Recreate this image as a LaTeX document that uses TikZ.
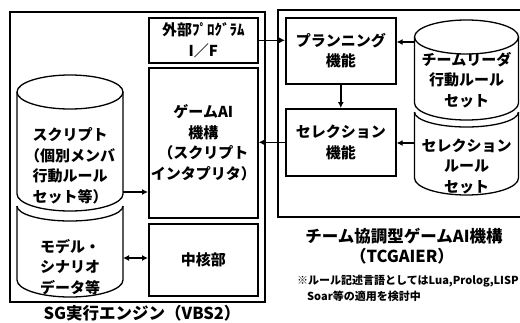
\documentclass[tikz,border=0pt]{standalone}
\usepackage{fontspec}
\setmainfont{Noto Sans CJK JP}
\usetikzlibrary{arrows.meta}
\tikzset{
  box/.style={draw, line width=1.6pt, inner sep=0pt},
  lbl/.style={font=\fontsize{15}{20.5}\selectfont\bfseries, align=center, inner sep=0pt},
  caplbl/.style={font=\fontsize{16.5}{20}\selectfont\bfseries, align=center, inner sep=0pt},
  notelbl/.style={font=\fontsize{11}{14}\selectfont\bfseries, anchor=west, inner sep=0pt},
  cylline/.style={line width=1.3pt},
  arr/.style={line width=1.5pt, -{Latex[length=6pt,width=6pt]}},
  darr/.style={line width=1.5pt, {Latex[length=6pt,width=6pt]}-{Latex[length=6pt,width=6pt]}},
}
\begin{document}
\begin{tikzpicture}[x=1pt,y=-1pt]
\useasboundingbox (0,0) rectangle (520,322);
% outer frames
\node[box, anchor=north west, minimum width=255pt, minimum height=290pt] (sg) at (9,11) {};
\draw[line width=1.6pt] (545,10) -- (278,10) -- (278,217) -- (545,217);
\coordinate (tcg) at (278,10);
% middle column
\node[box, lbl, anchor=north west, minimum width=109pt, minimum height=45pt] (ext) at (148,17) {外部ﾌﾟﾛｸﾞﾗﾑ\\I／F};
\node[box, lbl, anchor=north west, minimum width=109pt, minimum height=150pt] (gai) at (148,67) {ゲームAI\\機構\\（スクリプト\\インタプリタ）};
\node[box, lbl, anchor=north west, minimum width=109pt, minimum height=72pt] (core) at (148,223) {中核部};
% right boxes
\node[box, lbl, anchor=north west, minimum width=110pt, minimum height=66pt] (plan) at (285,17) {プランニング\\機能};
\node[box, lbl, anchor=north west, minimum width=110pt, minimum height=67pt] (sel) at (285,108) {セレクション\\機能};
% left cylinders
\draw[cylline] (70,92) ellipse [x radius=53pt, y radius=17pt];
\draw[cylline] (17,92) -- (17,194) arc[start angle=180,end angle=360,x radius=53pt,y radius=17pt] -- (123,92);
\draw[cylline] (17,206) arc[start angle=180,end angle=360,x radius=53pt,y radius=15pt];
\draw[cylline] (17,206) -- (17,280) arc[start angle=180,end angle=360,x radius=53pt,y radius=17pt] -- (123,206);
\node[lbl] (script) at (70,166) {スクリプト\\（個別メンバ\\行動ルール\\セット等）};
\node[lbl] (model) at (70,267) {モデル・\\シナリオ\\データ等};
\coordinate (scriptE) at (123,192);
\coordinate (modelE) at (123,258);
% right cylinders
\draw[cylline] (466.5,37) ellipse [x radius=52pt, y radius=17pt];
\draw[cylline] (414.5,37) -- (414.5,103) arc[start angle=180,end angle=360,x radius=52pt,y radius=17pt] -- (518.5,37);
\draw[cylline] (414.5,112) arc[start angle=180,end angle=360,x radius=52pt,y radius=15pt];
\draw[cylline] (414.5,112) -- (414.5,178) arc[start angle=180,end angle=360,x radius=52pt,y radius=17pt] -- (518.5,112);
\node[lbl] (team) at (466.5,80) {チームリーダ\\行動ルール\\セット};
\node[lbl] (selrule) at (466.5,166) {セレクション\\ルール\\セット};
\coordinate (teamW) at (414.5,42);
\coordinate (selruleW) at (414.5,143);
% captions
\node[caplbl] (sgcap) at (142,313) {SG実行エンジン（VBS2）};
\node[caplbl] (tcgcap) at (404,236) {チーム協調型ゲームAI機構};
\node[caplbl] (tcgcap2) at (402,256) {（TCGAIER）};
\node[notelbl] (note1) at (297,281) {※ルール記述言語としてはLua,Prolog,LISP};
\node[notelbl] (note2) at (307,296) {Soar等の適用を検討中};
% connectors
\draw[arr] (ext.east) -- (ext.east -| plan.west);
\draw[arr] (plan.south) -- (sel.north);
\draw[arr] (teamW) -- (teamW -| plan.east);
\draw[arr] (selruleW) -- (selruleW -| sel.east);
\draw[arr] (sel.west) -- (sel.west -| gai.east);
\draw[arr] (scriptE) -- (scriptE -| gai.west);
\draw[darr] (modelE) -- (modelE -| core.west);
\end{tikzpicture}
\end{document}
